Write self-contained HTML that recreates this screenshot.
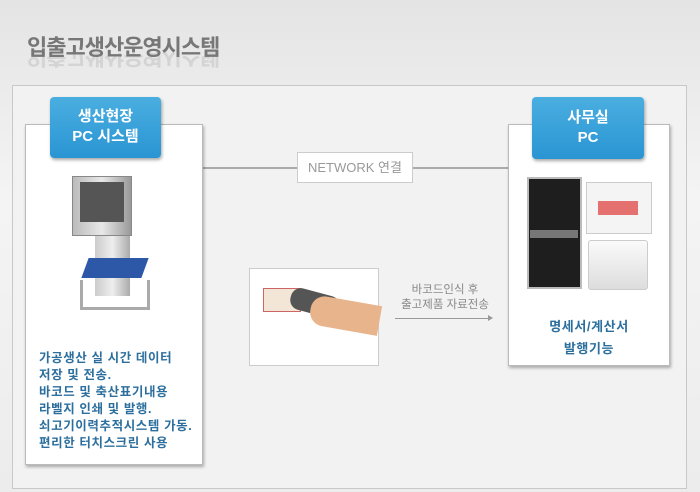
<!DOCTYPE html>
<html><head><meta charset="utf-8"><style>
*{margin:0;padding:0;box-sizing:border-box}
body{width:700px;height:492px;overflow:hidden;background:linear-gradient(180deg,#e4e4e4 0%,#f4f4f4 40%,#ececec 100%);font-family:"Liberation Sans","Noto Sans CJK KR",sans-serif;position:relative}
.a{position:absolute}
.title{left:27px;top:30px;font-size:22px;font-weight:bold;color:#777;letter-spacing:-1px}
.refl{left:27px;top:52px;font-size:22px;font-weight:bold;color:#777;letter-spacing:-1px;transform:scaleY(-1);opacity:.18;height:22px;overflow:hidden}
.panel{left:12px;top:85px;width:675px;height:404px;background:#f2f2f2;border:1px solid #c8c8c8}
.box{background:#fff;border:1px solid #bbb;box-shadow:1px 2px 3px rgba(0,0,0,.3)}
.tab{background:linear-gradient(#4aaee0,#2a95d3);border-radius:4px;color:#fff;font-weight:bold;font-size:15px;text-align:center;line-height:20px;box-shadow:1px 2px 3px rgba(0,0,0,.35)}
.blue{color:#2c6f9e;font-size:12.5px;line-height:17px;font-weight:bold;letter-spacing:.6px}
</style></head><body>
<div class="a title">입출고생산운영시스템</div>
<div class="a refl">입출고생산운영시스템</div>
<div class="a panel"></div>
<div class="a" style="left:203px;top:167px;width:305px;height:2px;background:#aaa"></div>
<div class="a" style="left:297px;top:152px;width:116px;height:31px;background:#fff;border:1px solid #ccc;color:#999;font-size:13px;line-height:29px;text-align:center">NETWORK 연결</div>
<div class="a box" style="left:25px;top:124px;width:178px;height:341px"></div>
<div class="a tab" style="left:50px;top:97px;width:111px;height:61px;padding-top:10px">생산현장<br>PC 시스템</div>
<!-- kiosk -->
<div class="a" style="left:72px;top:176px;width:60px;height:60px;background:linear-gradient(90deg,#bbb,#e8e8e8,#999);border:1px solid #888"></div>
<div class="a" style="left:80px;top:182px;width:44px;height:40px;background:#555"></div>
<div class="a" style="left:95px;top:236px;width:35px;height:60px;background:linear-gradient(90deg,#ccc,#eee,#aaa)"></div>
<div class="a" style="left:85px;top:258px;width:60px;height:20px;background:#2d58a8;transform:skewX(-20deg)"></div>
<div class="a" style="left:80px;top:280px;width:70px;height:30px;border:3px solid #aaa;border-top:none"></div>
<div class="a blue" style="left:39px;top:350px">가공생산 실 시간 데이터<br>저장 및 전송.<br>바코드 및 축산표기내용<br>라벨지 인쇄 및 발행.<br>쇠고기이력추적시스템 가동.<br>편리한 터치스크린 사용</div>
<!-- scanner -->
<div class="a" style="left:249px;top:268px;width:130px;height:98px;background:#fff;border:1px solid #ccc"></div>
<div class="a" style="left:263px;top:288px;width:38px;height:24px;background:#f3e6d6;border:1px solid #c66"></div>
<div class="a" style="left:290px;top:292px;width:50px;height:22px;background:#555;border-radius:10px;transform:rotate(15deg)"></div>
<div class="a" style="left:310px;top:300px;width:70px;height:30px;background:#e8b48c;border-radius:14px 0 0 14px;transform:rotate(10deg)"></div>
<div class="a" style="left:392px;top:283px;width:106px;text-align:center;color:#888;font-size:11.5px;line-height:15px">바코드인식 후<br>출고제품 자료전송</div>
<div class="a" style="left:395px;top:318px;width:96px;height:1px;background:#999"></div>
<div class="a" style="left:488px;top:315px;width:0;height:0;border-left:5px solid #999;border-top:3px solid transparent;border-bottom:3px solid transparent"></div>
<!-- right -->
<div class="a box" style="left:508px;top:124px;width:162px;height:242px"></div>
<div class="a tab" style="left:532px;top:97px;width:112px;height:62px;padding-top:11px">사무실<br>PC</div>
<div class="a" style="left:527px;top:177px;width:55px;height:112px;background:#1e1e1e;border:2px solid #bbb"></div>
<div class="a" style="left:530px;top:230px;width:48px;height:8px;background:#777"></div>
<div class="a" style="left:586px;top:182px;width:66px;height:52px;background:#f4f4f4;border:1px solid #ccc"></div>
<div class="a" style="left:598px;top:201px;width:40px;height:14px;background:#e57070"></div>
<div class="a" style="left:588px;top:240px;width:60px;height:50px;background:linear-gradient(#fafafa,#ddd);border:1px solid #ccc;border-radius:3px"></div>
<div class="a blue" style="left:508px;top:316px;width:162px;text-align:center;font-size:13px;line-height:22px">명세서/계산서<br>발행기능</div>
</body></html>
